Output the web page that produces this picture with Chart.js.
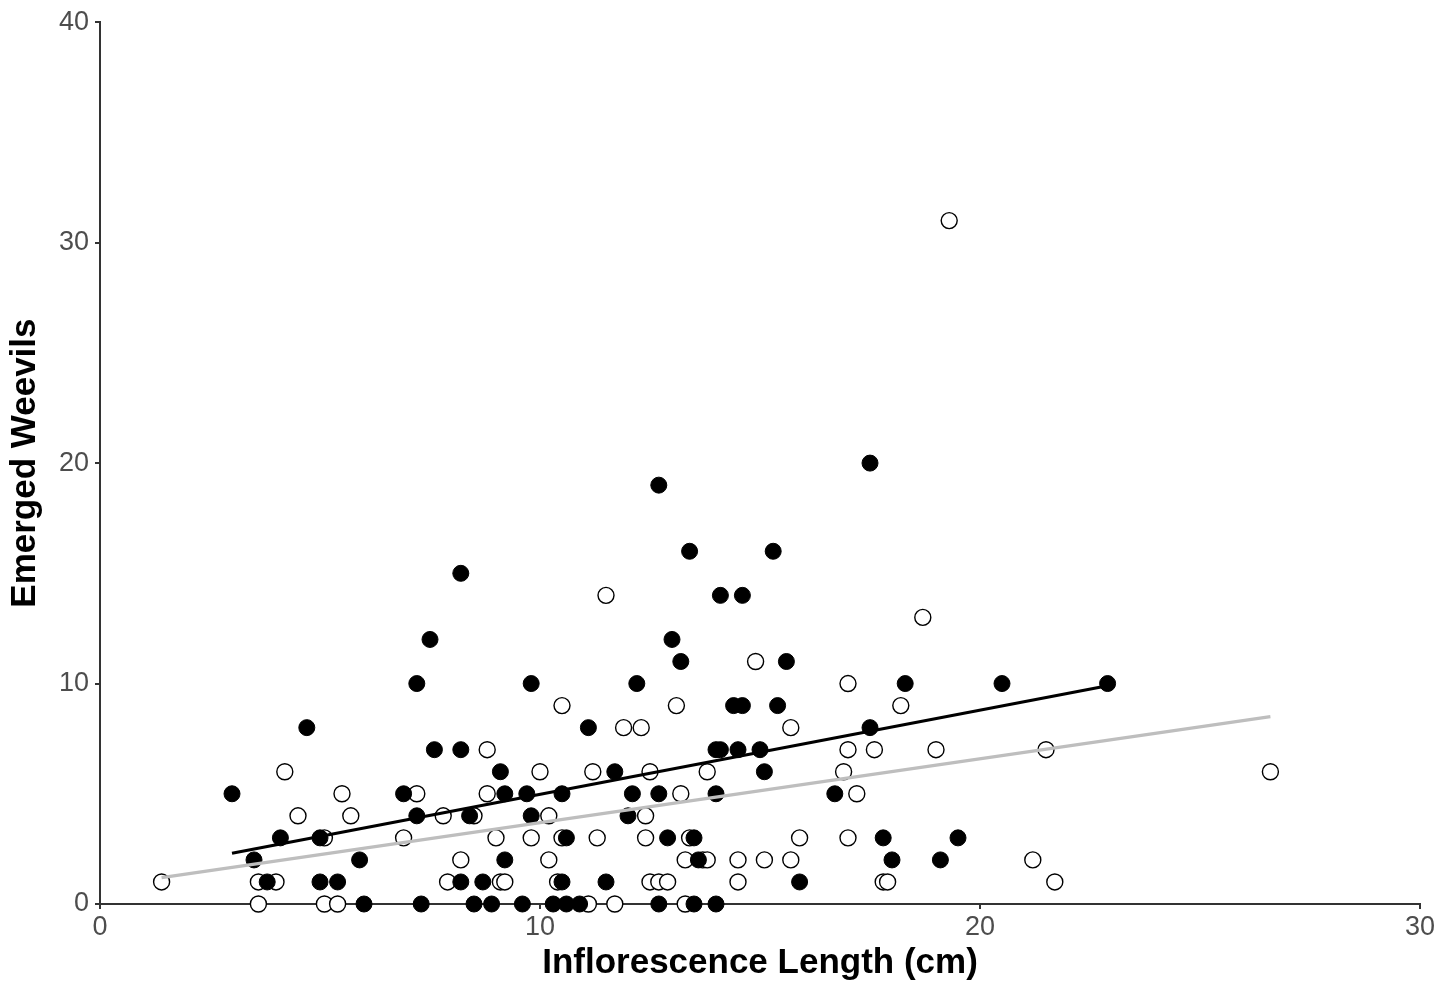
<!DOCTYPE html>
<html>
<head>
<meta charset="utf-8">
<script src="https://cdn.jsdelivr.net/npm/chart.js@4/dist/chart.umd.min.js"></script>
<style>
    html, body { margin: 0; padding: 0; background: #fff; }
    #weevil-chart { display: block; }
</style>
</head>
<body>
<canvas id="weevil-chart" width="1453" height="984"></canvas>
<script>
// Filled circles group (length cm, emerged weevils)
const filledX = [3.0, 3.5, 3.8, 4.1, 4.7, 5.0, 5.0, 5.4, 5.9, 6.0, 6.9, 7.2, 7.2, 7.3, 7.5, 7.6, 8.2, 8.2, 8.2, 8.4,
    8.5, 8.7, 8.9, 9.1, 9.2, 9.2, 9.6, 9.7, 9.8, 9.8, 10.3, 10.5, 10.5, 10.6, 10.6, 10.9, 11.1, 11.5, 11.7, 12.0,
    12.1, 12.2, 12.7, 12.7, 12.7, 12.9, 13.0, 13.2, 13.4, 13.5, 13.5, 13.6, 14.0, 14.0, 14.0, 14.1, 14.1, 14.4, 14.5, 14.6,
    14.6, 15.0, 15.1, 15.3, 15.4, 15.6, 15.9, 16.7, 17.5, 17.5, 17.8, 18.0, 18.3, 19.1, 19.5, 20.5, 22.9];
const filledY = [5, 2, 1, 3, 8, 3, 1, 1, 2, 0, 5, 10, 4, 0, 12, 7, 15, 7, 1, 4,
    0, 1, 0, 6, 2, 5, 0, 5, 10, 4, 0, 5, 1, 3, 0, 0, 8, 1, 6, 4,
    5, 10, 19, 5, 0, 3, 12, 11, 16, 3, 0, 2, 0, 5, 7, 14, 7, 9, 7, 14,
    9, 7, 6, 16, 9, 11, 1, 5, 8, 20, 3, 2, 10, 2, 3, 10, 10];

// Open circles group
const openX = [1.4, 3.6, 3.6, 4.0, 4.2, 4.5, 5.1, 5.1, 5.4, 5.5, 5.7, 6.9, 7.2, 7.8, 7.9, 8.2, 8.5, 8.8, 8.8, 9.0,
    9.1, 9.2, 9.8, 10.0, 10.2, 10.2, 10.5, 10.4, 10.5, 11.1, 11.2, 11.3, 11.5, 11.7, 11.9, 12.3, 12.4, 12.4, 12.5, 12.5,
    12.7, 12.9, 13.1, 13.2, 13.3, 13.3, 13.4, 13.7, 13.8, 13.8, 14.5, 14.5, 14.9, 15.1, 15.7, 15.7, 15.9, 16.9, 17.0, 17.0,
    17.0, 17.2, 17.6, 17.8, 17.9, 18.2, 18.7, 19.0, 19.3, 21.2, 21.5, 21.7, 26.6];
const openY = [1, 0, 1, 1, 6, 4, 0, 3, 0, 5, 4, 3, 5, 4, 1, 2, 4, 7, 5, 3,
    1, 1, 3, 6, 2, 4, 9, 1, 3, 0, 6, 3, 14, 0, 8, 8, 4, 3, 6, 1,
    1, 1, 9, 5, 2, 0, 3, 2, 6, 2, 1, 2, 11, 2, 2, 8, 3, 6, 10, 7,
    3, 5, 7, 1, 1, 9, 13, 7, 31, 2, 7, 1, 6];

// Fitted trend lines (endpoints)
const filledFitX = [3.0, 22.9];
const filledFitY = [2.3, 9.9];
const openFitX = [1.4, 26.6];
const openFitY = [1.2, 8.5];

// Axis ticks
const xTicks = [0, 10, 20, 30];
const yTicks = [0, 10, 20, 30, 40];

const toPoints = (xs, ys) => xs.map((x, i) => ({ x: x, y: ys[i] }));

const axisColor = '#333333';
const tickColor = '#4d4d4d';
const fontFamily = '"Liberation Sans", Arial, Helvetica, sans-serif';

function initChart() {
    const ctx = document.getElementById('weevil-chart').getContext('2d');
    return new Chart(ctx, {
        type: 'scatter',
        data: {
            datasets: [
                {
                    type: 'line',
                    label: 'Filled fit',
                    data: toPoints(filledFitX, filledFitY),
                    borderColor: '#000000',
                    borderWidth: 3.2,
                    pointRadius: 0,
                    fill: false,
                    order: 0
                },
                {
                    type: 'line',
                    label: 'Open fit',
                    data: toPoints(openFitX, openFitY),
                    borderColor: '#bebebe',
                    borderWidth: 3.2,
                    pointRadius: 0,
                    fill: false,
                    order: 1
                },
                {
                    label: 'Filled',
                    data: toPoints(filledX, filledY),
                    backgroundColor: '#000000',
                    borderColor: '#000000',
                    borderWidth: 1,
                    pointRadius: 8,
                    order: 2
                },
                {
                    label: 'Open',
                    data: toPoints(openX, openY),
                    backgroundColor: '#ffffff',
                    borderColor: '#000000',
                    borderWidth: 1.4,
                    pointRadius: 8,
                    order: 3
                }
            ]
        },
        options: {
            responsive: false,
            animation: false,
            clip: false,
            layout: { padding: { top: 22, right: 33, left: 0, bottom: 0 } },
            plugins: {
                legend: { display: false },
                tooltip: { enabled: false }
            },
            scales: {
                x: {
                    type: 'linear',
                    min: 0,
                    max: 30,
                    afterBuildTicks: scale => { scale.ticks = xTicks.map(v => ({ value: v })); },
                    afterFit: scale => { scale.height = 80; },
                    border: { display: true, color: axisColor, width: 2 },
                    grid: { drawOnChartArea: false, drawTicks: true, tickLength: 5, color: axisColor, lineWidth: 2 },
                    ticks: { color: tickColor, font: { family: fontFamily, size: 27 }, padding: 2 },
                    title: {
                        display: true,
                        text: 'Inflorescence Length (cm)',
                        color: '#000000',
                        font: { family: fontFamily, size: 35, weight: 'bold' },
                        padding: { top: 0, bottom: 0 }
                    }
                },
                y: {
                    type: 'linear',
                    min: 0,
                    max: 40,
                    afterBuildTicks: scale => { scale.ticks = yTicks.map(v => ({ value: v })); },
                    afterFit: scale => { scale.width = 100; },
                    border: { display: true, color: axisColor, width: 2 },
                    grid: { drawOnChartArea: false, drawTicks: true, tickLength: 5, color: axisColor, lineWidth: 2 },
                    ticks: { color: tickColor, font: { family: fontFamily, size: 27 }, padding: 6 },
                    title: {
                        display: true,
                        text: 'Emerged Weevils',
                        color: '#000000',
                        font: { family: fontFamily, size: 35, weight: 'bold' },
                        padding: { top: 4, bottom: 0 }
                    }
                }
            }
        }
    });
}

initChart();
</script>
</body>
</html>
